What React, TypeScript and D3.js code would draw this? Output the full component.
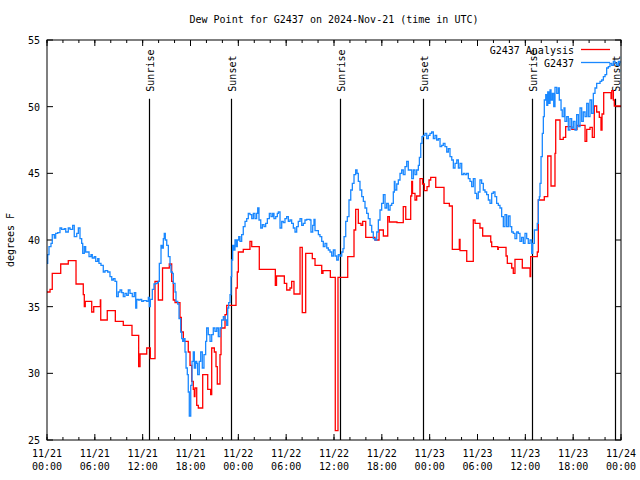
import React from "react";
import * as d3 from "d3";

const TITLE = "Dew Point for G2437 on 2024-Nov-21 (time in UTC)";
const Y_LABEL = "degrees F";
const START = Date.UTC(2024, 10, 21, 0, 0);
const END = Date.UTC(2024, 10, 24, 0, 0);
const Y_TICKS = [25, 30, 35, 40, 45, 50, 55];

// hours since 2024-11-21 00:00 UTC
const analysisHours = [
  0, 0.38, 0.66, 1.72, 2.67, 3.64, 4.55, 4.68, 4.8, 5.61, 5.86, 6.69, 6.74, 7.56, 8.57, 9.57, 10.66, 11.5, 11.67,
  12.51, 12.96, 13.55, 13.96, 14.49, 15.34, 15.64, 15.84, 16.06, 16.68, 16.85, 17.1, 17.72, 17.94, 18.15, 18.35,
  18.48, 18.56, 18.78, 18.98, 19.53, 20.16, 20.53, 20.66, 20.99, 21.2, 21.36, 21.7, 21.83, 22.33, 22.54, 23.71,
  23.87, 24.0, 24.62, 25.46, 25.68, 26.63, 28.64, 28.79, 29.77, 30.07, 30.48, 30.69, 30.98, 31.74, 32.02, 32.45,
  33.28, 33.62, 34.46, 34.62, 35.54, 36.16, 36.5, 37.72, 38.51, 38.72, 39.05, 39.39, 39.6, 39.98, 41.14, 41.65,
  42.19, 42.74, 42.94, 43.9, 44.69, 45.0, 45.62, 45.75, 45.85, 46.16, 46.37, 46.79, 47.1, 47.33, 47.67, 47.92,
  48.13, 48.76, 49.8, 50.47, 50.84, 51.72, 51.81, 52.65, 53.47, 53.69, 54.31, 54.65, 55.66, 55.78, 56.54, 56.61,
  57.58, 57.74, 58.29, 58.49, 58.7, 59.62, 60.59, 60.67, 61.5, 61.63, 62.38, 62.81, 63.22, 63.72, 63.81, 64.35,
  64.76, 65.06, 65.83, 66.48, 67.49, 67.7, 68.11, 68.4, 68.65, 68.95, 69.28, 69.49, 69.62, 69.83, 70.75, 70.84,
  71.04, 71.16, 72,
];
const analysisValues = [
  36.1, 36.3, 37.5, 38.2, 38.45, 36.7, 35.9, 35.0, 35.4, 34.6, 35.0, 35.5, 34.0, 34.7, 33.9, 33.6, 32.85, 30.5, 31.45,
  31.9, 31.1, 36.9, 35.5, 37.9, 38.2, 36.9, 35.5, 35.3, 34.2, 33.1, 32.4, 31.6, 30.6, 29.4, 28.8,
  28.25, 28.9, 27.6, 27.4, 29.9, 28.8, 28.4, 31.9, 31.6, 30.5, 29.2, 31.4, 33.4, 34.4, 35.1, 36.4,
  37.6, 39.1, 39.3, 39.9, 39.5, 37.8, 36.6, 37.3, 36.75, 36.25, 36.4, 36.9, 35.95, 39.45, 34.55, 39.0,
  38.6, 38.1, 37.5, 37.7, 37.2, 25.7, 37.2, 38.75, 40.75, 42.3, 41.25, 41.1, 41.4, 40.2, 40.0, 40.75,
  40.3, 41.75, 41.35, 41.3, 42.5, 41.55, 43.3, 44.4, 43.5, 43.0, 43.3, 44.6, 44.2, 43.7, 44.0, 44.5,
  44.7, 43.95, 42.75, 42.55, 39.3, 40.05, 39.2, 38.4, 41.5, 41.25, 40.9, 40.3, 39.85, 39.5, 39.3, 39.45,
  38.8, 38.25, 37.9, 37.5, 38.55, 37.9, 37.25, 38.75, 39.1, 43.0, 43.25, 46.3, 44.05, 46.5, 49.0, 47.55,
  47.7, 48.5, 48.3, 48.6, 47.4, 48.3, 48.45, 47.7, 50.05, 49.6, 49.2, 48.25, 49.45, 51.05, 50.6, 51.2,
  50.5, 50.05, 50.05,
];

const obsHours = [
  0, 0.09, 0.25, 0.5, 0.66, 0.92, 1.09, 1.34, 1.63, 1.84, 2.17, 2.35, 2.67, 2.89, 3.22, 3.42, 3.73, 3.93, 4.14,
  4.35, 4.48, 4.68, 4.85, 5.11, 5.27, 5.52, 5.68, 5.93, 6.11, 6.36, 6.52, 6.77, 7.06, 7.28, 7.61, 7.9, 8.12, 8.32,
  8.53, 8.74, 8.94, 9.16, 9.37, 9.57, 9.78, 10.0, 10.2, 10.41, 10.7, 10.95, 11.13, 11.25, 11.45, 11.67, 11.88,
  12.08, 12.29, 12.51, 12.71, 12.83, 12.96, 13.21, 13.42, 13.64, 13.84, 13.96, 14.09, 14.3, 14.46, 14.59, 14.71,
  14.84, 15.02, 15.22, 15.43, 15.55, 15.72, 15.84, 16.06, 16.18, 16.4, 16.56, 16.77, 16.9, 17.02, 17.19, 17.31,
  17.44, 17.6, 17.72, 17.85, 18.03, 18.19, 18.35, 18.48, 18.65, 18.78, 18.9, 19.1, 19.28, 19.48, 19.69, 19.9,
  20.03, 20.23, 20.45, 20.66, 20.86, 21.07, 21.29, 21.49, 21.7, 21.91, 22.12, 22.33, 22.54, 22.67, 22.79, 22.96,
  23.08, 23.17, 23.29, 23.42, 23.58, 23.75, 23.87, 24.05, 24.21, 24.42, 24.62, 24.84, 25.05, 25.25, 25.46, 25.68,
  25.88, 26.09, 26.3, 26.43, 26.59, 26.81, 27.01, 27.22, 27.43, 27.64, 27.89, 28.1, 28.31, 28.47, 28.69, 28.89,
  29.02, 29.23, 29.44, 29.64, 29.85, 30.06, 30.27, 30.48, 30.69, 30.9, 31.11, 31.32, 31.52, 31.74, 31.95, 32.15,
  32.36, 32.58, 32.78, 32.99, 33.11, 33.33, 33.49, 33.62, 33.83, 34.04, 34.24, 34.46, 34.66, 34.87, 35.09, 35.29,
  35.5, 35.71, 35.92, 36.13, 36.34, 36.54, 36.75, 36.97, 37.13, 37.26, 37.47, 37.67, 37.88, 38.1, 38.3, 38.51,
  38.72, 38.89, 39.05, 39.26, 39.48, 39.68, 39.89, 40.1, 40.3, 40.52, 40.73, 40.93, 41.14, 41.36, 41.56, 41.77,
  41.98, 42.19, 42.4, 42.61, 42.81, 43.03, 43.24, 43.44, 43.57, 43.65, 43.87, 44.07, 44.28, 44.49, 44.69, 44.91,
  45.12, 45.32, 45.53, 45.75, 45.96, 46.16, 46.37, 46.58, 46.71, 46.88, 47.04, 47.2, 47.42, 47.63, 47.83, 48.04,
  48.25, 48.46, 48.67, 48.88, 49.09, 49.3, 49.51, 49.71, 49.92, 50.14, 50.34, 50.55, 50.77, 50.97, 51.18, 51.4,
  51.6, 51.81, 52.02, 52.23, 52.43, 52.64, 52.85, 53.06, 53.27, 53.48, 53.69, 53.9, 54.1, 54.31, 54.52, 54.73,
  54.94, 55.15, 55.36, 55.57, 55.78, 55.98, 56.19, 56.4, 56.61, 56.82, 57.03, 57.24, 57.45, 57.66, 57.87, 58.08,
  58.29, 58.49, 58.7, 58.92, 59.12, 59.33, 59.54, 59.75, 59.96, 60.17, 60.37, 60.59, 60.8, 60.92, 61.13, 61.5,
  61.63, 61.76, 61.84, 61.97, 62.13, 62.26, 62.38, 62.56, 62.69, 62.81, 62.97, 63.1, 63.22, 63.39, 63.56, 63.72,
  63.94, 64.14, 64.26, 64.48, 64.63, 64.85, 64.97, 65.19, 65.39, 65.6, 65.81, 66.02, 66.23, 66.44, 66.65, 66.86,
  67.07, 67.27, 67.49, 67.7, 67.9, 68.11, 68.32, 68.53, 68.74, 68.95, 69.16, 69.37, 69.58, 69.79, 70.0, 70.2,
  70.41, 70.62, 70.84, 71.04, 71.25, 71.46, 71.67, 71.88,
];
const obsValues = [
  38.25, 38.9, 39.5, 39.75, 40.4, 40.15, 40.5, 40.55, 40.9, 40.8, 40.85, 40.6, 40.9, 40.8, 41.1, 40.25, 40.5, 40.9, 40.1,
  39.75, 39.0, 39.5, 39.1, 39.1, 38.75, 38.9, 38.65, 38.75, 38.4, 38.6, 38.25, 38.1, 37.6, 37.7, 37.6, 37.25, 37.0, 37.1,
  36.9, 35.75, 36.1, 36.25, 36.05, 35.75, 36.0, 35.85, 36.25, 36.0, 35.75, 36.05, 34.9, 35.55, 35.5, 35.55, 35.4,
  35.45, 35.45, 35.4, 35.7, 35.0, 35.55, 36.3, 36.7, 36.75, 36.8, 36.9, 38.25, 39.6, 39.4, 40.1, 40.5,
  40.0, 39.6, 38.75, 38.1, 37.6, 37.5, 36.75, 36.1, 35.4, 35.2, 34.1, 33.1, 32.6, 32.4, 32.6, 31.6,
  30.4, 29.9, 28.6, 26.8, 29.1, 30.9, 31.6, 30.4, 30.9, 30.75, 29.9, 30.9, 31.6, 30.4, 31.4, 32.4,
  33.4, 32.9, 32.4, 32.9, 33.4, 33.15, 33.4, 32.75, 33.4, 34.0, 34.25, 34.0, 33.6, 34.9, 35.3, 35.9,
  37.25, 38.5, 39.6, 39.25, 40.0, 39.5, 40.0, 40.25, 39.9, 40.4, 41.0, 41.4, 41.6, 42.0, 41.9, 41.6,
  42.0, 41.6, 42.0, 42.4, 41.5, 40.9, 41.15, 41.0, 41.25, 41.6, 42.0, 41.75, 42.0, 41.6, 41.75, 42.0,
  42.1, 40.9, 41.4, 41.3, 41.6, 41.75, 41.4, 41.5, 41.25, 40.9, 40.6, 41.0, 41.4, 41.6, 41.1, 41.25,
  41.5, 41.55, 41.55, 41.5, 40.6, 41.1, 41.55, 40.7, 40.7, 40.4, 40.25, 39.9, 39.5, 39.75, 39.4, 39.25,
  39.1, 38.8, 39.25, 38.8, 38.5, 38.9, 38.8, 39.1, 39.35, 40.25, 41.4, 41.75, 43.0, 43.75, 44.25, 44.9,
  45.25, 45.0, 44.4, 43.75, 43.25, 42.9, 42.4, 42.0, 41.6, 41.1, 40.6, 40.1, 40.0, 40.6, 41.5, 42.25,
  42.75, 43.4, 42.4, 42.75, 42.25, 42.6, 42.75, 43.6, 44.4, 43.75, 44.2, 44.5, 45.0, 45.25, 44.9, 45.5,
  45.9, 45.25, 45.25, 44.6, 45.25, 44.9, 45.25, 45.6, 46.2, 47.25, 47.75, 47.85, 48.0, 47.6, 47.85, 48.0,
  48.1, 47.6, 47.85, 47.5, 47.6, 47.0, 47.1, 47.25, 47.0, 46.6, 46.85, 46.25, 46.0, 45.4, 45.75, 46.0,
  45.4, 45.75, 44.9, 45.0, 44.9, 45.0, 44.6, 44.4, 44.0, 44.6, 43.5, 43.1, 43.6, 44.5, 44.25, 43.75,
  43.6, 43.4, 43.0, 42.75, 43.5, 43.6, 43.25, 42.75, 42.6, 42.4, 41.75, 41.0, 41.9, 41.0, 41.8, 41.0,
  40.6, 40.5, 40.1, 40.6, 40.5, 39.9, 40.2, 39.75, 40.5, 40.1, 39.75, 40.0, 39.0, 39.75, 40.75, 41.25,
  43.0, 43.25, 44.25, 46.25, 48.0, 49.25, 50.5, 50.9, 50.1, 51.1, 50.25, 51.25, 50.5, 51.0, 50.0, 51.45,
  51.0, 51.4, 50.5, 49.75, 49.25, 49.9, 48.9, 49.25, 48.25, 49.1, 48.4, 48.9, 48.25, 49.4, 48.5, 49.9,
  48.9, 49.6, 49.25, 50.25, 49.25, 50.5, 49.5, 51.0, 51.4, 51.75, 51.75, 51.9, 52.0, 52.25, 52.4, 52.9,
  53.0, 53.25, 53.1, 53.4, 53.25, 53.1, 53.4, 53.25,
];

const sunEventHours = [12.83, 23.12, 36.79, 47.2, 60.88, 71.29];
const sunEventLabels = ["Sunrise", "Sunset", "Sunrise", "Sunset", "Sunrise", "Sunset"];
const SUN_LINE_TOP = 50.6;

const SERIES_NAMES = ["G2437 Analysis", "G2437"];
const SERIES_COLORS = ["#ff0000", "#1a88ff"];

const W = 640;
const H = 480;
const M = { left: 47, right: 621, top: 40, bottom: 440 };
const FONT = "'DejaVu Sans Mono', 'Liberation Mono', monospace";

const toDate = (h: number) => new Date(START + h * 3600 * 1000);

export default function App() {
  const x = d3.scaleUtc().domain([new Date(START), new Date(END)]).range([M.left, M.right]);
  const y = d3.scaleLinear().domain([25, 55]).range([M.bottom, M.top]);

  const line = d3
    .line<[Date, number]>()
    .x((d) => x(d[0]))
    .y((d) => y(d[1]))
    .curve(d3.curveStepAfter);

  const analysis: [Date, number][] = analysisHours.map((h, i) => [toDate(h), analysisValues[i]]);
  const obs: [Date, number][] = obsHours.map((h, i) => [toDate(h), obsValues[i]]);

  const majorTicks = d3.utcHour.every(6)!.range(new Date(START), new Date(END + 1));
  const minorTicks = d3.utcHour.every(2)!.range(new Date(START), new Date(END + 1));
  const fmtDate = d3.utcFormat("%m/%d");
  const fmtTime = d3.utcFormat("%H:%M");

  return (
    <svg width={W} height={H} style={{ position: "absolute", left: 0, top: 0, background: "#fff" }}>
      <defs>
        <clipPath id="plotclip">
          <rect x={M.left} y={M.top} width={M.right - M.left} height={M.bottom - M.top} />
        </clipPath>
      </defs>
      <rect x={0} y={0} width={W} height={H} fill="#fff" />
      <g fontFamily={FONT} fontSize={10} fill="#000">
        <text x={(M.left + M.right) / 2} y={23} textAnchor="middle">{TITLE}</text>
        <text transform={`translate(14,${(M.top + M.bottom) / 2}) rotate(-90)`} textAnchor="middle">
          {Y_LABEL}
        </text>
        {Y_TICKS.map((t) => (
          <g key={t}>
            <text x={40} y={y(t) + 4} textAnchor="end">{t}</text>
            <line x1={M.left} x2={M.left + 6} y1={y(t)} y2={y(t)} stroke="#000" />
            <line x1={M.right} x2={M.right - 6} y1={y(t)} y2={y(t)} stroke="#000" />
          </g>
        ))}
        {minorTicks.map((d, i) => (
          <g key={"m" + i}>
            <line x1={x(d)} x2={x(d)} y1={M.bottom} y2={M.bottom - 3} stroke="#000" />
            <line x1={x(d)} x2={x(d)} y1={M.top} y2={M.top + 3} stroke="#000" />
          </g>
        ))}
        {majorTicks.map((d, i) => (
          <g key={"M" + i}>
            <line x1={x(d)} x2={x(d)} y1={M.bottom} y2={M.bottom - 6} stroke="#000" />
            <line x1={x(d)} x2={x(d)} y1={M.top} y2={M.top + 6} stroke="#000" />
            <text x={x(d)} y={457} textAnchor="middle">{fmtDate(d)}</text>
            <text x={x(d)} y={470} textAnchor="middle">{fmtTime(d)}</text>
          </g>
        ))}
        {sunEventHours.map((h, i) => {
          const xx = Math.round(x(toDate(h))) + 0.5;
          return (
            <g key={"s" + i}>
              <line x1={xx} x2={xx} y1={M.bottom} y2={y(SUN_LINE_TOP)} stroke="#000" strokeWidth={1.2} />
              <text transform={`translate(${xx + 4},${y(SUN_LINE_TOP) - 7}) rotate(-90)`} textAnchor="start">
                {sunEventLabels[i]}
              </text>
            </g>
          );
        })}
        <g clipPath="url(#plotclip)" fill="none">
          <path d={line(analysis) || ""} stroke={SERIES_COLORS[0]} strokeWidth={1.3} />
          <path d={line(obs) || ""} stroke={SERIES_COLORS[1]} strokeWidth={1.3} />
        </g>
        {SERIES_NAMES.map((n, i) => (
          <g key={n}>
            <text x={574} y={54 + i * 13} textAnchor="end">{n}</text>
            <line x1={581} x2={610} y1={49.5 + i * 13} y2={49.5 + i * 13} stroke={SERIES_COLORS[i]} strokeWidth={1.3} />
          </g>
        ))}
        <rect x={M.left} y={M.top} width={M.right - M.left} height={M.bottom - M.top} fill="none" stroke="#000" strokeWidth={1} />
      </g>
    </svg>
  );
}
